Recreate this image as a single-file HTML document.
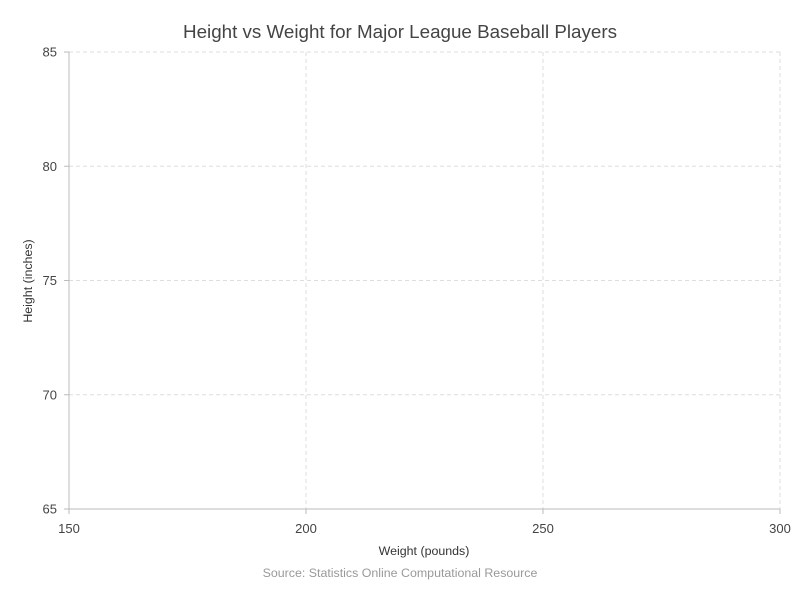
<!DOCTYPE html>
<html><head><meta charset="utf-8"><style>
html,body{margin:0;padding:0;background:#fff;}
svg text{font-family:"Liberation Sans",sans-serif;}
</style></head><body>
<svg width="800" height="600" xmlns="http://www.w3.org/2000/svg">
<text x="400" y="38" text-anchor="middle" font-size="18.8" fill="#444">Height vs Weight for Major League Baseball Players</text>
<g id="grid"></g>
<g id="axes"></g>
<g id="points"></g>
<text x="424" y="555" text-anchor="middle" font-size="12.4" fill="#333">Weight (pounds)</text>
<text transform="translate(32,281) rotate(-90)" text-anchor="middle" font-size="12.4" fill="#333">Height (inches)</text>
<text x="400" y="577" text-anchor="middle" font-size="12.4" fill="#999">Source: Statistics Online Computational Resource</text>
</svg>
<script>
const xTicks=[150,200,250,300];
const yTicks=[65,70,75,80,85];
const weights=[];
const heights=[];
const NS="http://www.w3.org/2000/svg";
const X0=69,X1=780,Y0=509,Y1=52;
function xs(v){return X0+(v-150)/(300-150)*(X1-X0);}
function ys(v){return Y0-(v-65)/(85-65)*(Y0-Y1);}
function mk(tag,attrs,parent){const e=document.createElementNS(NS,tag);for(const k in attrs)e.setAttribute(k,attrs[k]);document.getElementById(parent).appendChild(e);return e;}
xTicks.forEach(t=>{
  const x=xs(t);
  if(t!==150){const g=mk('line',{x1:x,x2:x,y1:Y1,y2:Y0,stroke:'#ddd','stroke-dasharray':'4,3'},'grid');
  
  }
  const tk=mk('line',{x1:x,x2:x,y1:Y0,y2:Y0+5,stroke:'#bbb'},'axes');
  
  
  const l=mk('text',{x:x,y:Y0+24,'text-anchor':'middle','font-size':'13',fill:'#444'},'axes');
  l.textContent=t;
  
  
});
yTicks.forEach(t=>{
  const y=ys(t);
  if(t!==65){const g=mk('line',{x1:X0,x2:X1,y1:y,y2:y,stroke:'#ddd','stroke-dasharray':'4,3'},'grid');
  
  }
  const tk=mk('line',{x1:X0-5,x2:X0,y1:y,y2:y,stroke:'#bbb'},'axes');
  
  
  const l=mk('text',{x:X0-12,y:y+4.5,'text-anchor':'end','font-size':'13',fill:'#444'},'axes');
  l.textContent=t;
  
  
});
const xa=mk('line',{x1:X0,x2:X1,y1:Y0,y2:Y0,stroke:'#bbb'},'axes');


const ya=mk('line',{x1:X0,x2:X0,y1:Y1,y2:Y0,stroke:'#bbb'},'axes');


weights.forEach((w,i)=>{
  const c=mk('circle',{cx:xs(w),cy:ys(heights[i]),r:3,fill:'#5470c6'},'points');
  
  
});
</script>
</body></html>
